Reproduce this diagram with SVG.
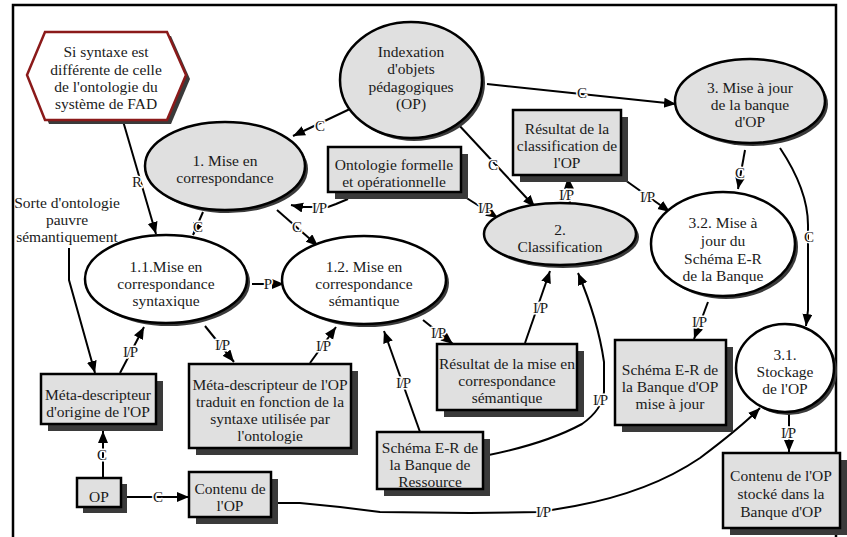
<svg xmlns="http://www.w3.org/2000/svg" width="847" height="537" viewBox="0 0 847 537" font-family="'Liberation Serif', 'Times New Roman', 'DejaVu Serif', serif">
<defs>
<marker id="ah" markerUnits="userSpaceOnUse" markerWidth="13" markerHeight="11" refX="12" refY="5" orient="auto">
<path d="M0,0 L12,5 L0,10 z" fill="#000"/>
</marker>
<style>
text{font-family:'Liberation Serif','Times New Roman',serif;font-size:15.5px;fill:#1a1a1a;text-anchor:middle}
.lbl{font-size:15px;stroke:#fff;stroke-width:3px;paint-order:stroke;stroke-linejoin:round}
.ip{letter-spacing:-1.2px}
.sh{fill:#3a3a3a;stroke:none}
.box{fill:#e0e0e0;stroke:#000;stroke-width:2.5}
.eg{fill:#e0e0e0;stroke:#000;stroke-width:2.5}
.ew{fill:#fff;stroke:#000;stroke-width:2.5}
.c{fill:none;stroke:#000;stroke-width:2;marker-end:url(#ah)}
</style>
</defs>
<rect width="847" height="537" fill="#fff"/>
<path d="M13,537 V5 H836 V537" fill="none" stroke="#000" stroke-width="2.5"/>

<g id="connectors">
<path class="c" d="M352,108 L293,136"/>
<path class="c" d="M487,84 L676,104"/>
<path class="c" d="M457,123 L535,207"/>
<path class="c" d="M123,121 L156,234"/>
<path class="c" d="M203,212 L193,235"/>
<path class="c" d="M277,210 L318,246"/>
<path class="c" d="M348,199 L336,204 L328,207 L300,207 L291,205"/>
<path class="c" d="M465,197 L498,218"/>
<path class="c" d="M570,204 L568,177"/>
<path class="c" d="M625,180 L670,212"/>
<path class="c" d="M745,150 L738,189"/>
<path class="c" d="M780,148 C796,172 808,200 808,225 L808,310 L806,326"/>
<path class="c" d="M708,302 L694,339"/>
<path class="c" d="M789,413 L789,452"/>
<path class="c" d="M271,503 L300,503 L340,507 L380,512 L470,513 L540,512 L575,506 Q650,492 700,458 Q740,428 760,408"/>
<path class="c" d="M484,456 Q545,444 582,424 Q602,410 604,392 L604,362 Q598,320 578,273"/>
<path class="c" d="M420,432 L384,331"/>
<path class="c" d="M423,320 L453,344"/>
<path class="c" d="M525,343 L550,271"/>
<path class="c" d="M252,284 L284,284"/>
<path class="c" d="M205,326 L234,362"/>
<path class="c" d="M310,363 L336,327"/>
<path class="c" d="M120,373 L144,327"/>
<path class="c" d="M69,248 L69,280 L95,373"/>
<path class="c" d="M103,478 L103,431"/>
<path class="c" d="M121,497 L189,497"/>
<text class="lbl" x="320" y="131">C</text>
<text class="lbl" x="582" y="98">C</text>
<text class="lbl" x="493" y="170">C</text>
<text class="lbl" x="137" y="187">R</text>
<text class="lbl" x="198" y="232">C</text>
<text class="lbl" x="297" y="232">C</text>
<text class="lbl ip" x="319" y="213">I/P</text>
<text class="lbl ip" x="485" y="213">I/P</text>
<text class="lbl ip" x="566" y="200">I/P</text>
<text class="lbl ip" x="647" y="202">I/P</text>
<text class="lbl" x="740" y="178">C</text>
<text class="lbl" x="809" y="242">C</text>
<text class="lbl ip" x="699" y="327">I/P</text>
<text class="lbl ip" x="788" y="438">I/P</text>
<text class="lbl ip" x="543" y="517">I/P</text>
<text class="lbl ip" x="600" y="405">I/P</text>
<text class="lbl ip" x="403" y="388">I/P</text>
<text class="lbl ip" x="438" y="338">I/P</text>
<text class="lbl ip" x="540" y="313">I/P</text>
<text class="lbl" x="268" y="289">P</text>
<text class="lbl ip" x="222" y="350">I/P</text>
<text class="lbl ip" x="323" y="351">I/P</text>
<text class="lbl ip" x="130" y="357">I/P</text>
<text class="lbl" x="102" y="460">C</text>
<text class="lbl" x="158" y="502">C</text>
</g>

<g id="n-condition">
<polygon class="sh" points="31,79 49,36 171,36 190,79 171,124 49,124"/>
<polygon points="27,75 45,32 167,32 186,75 167,120 45,120" fill="#fff" stroke="#8b1a1a" stroke-width="2.5"/>
<text x="106" y="57">Si syntaxe est</text>
<text x="106" y="75">différente de celle</text>
<text x="106" y="92">de l'ontologie du</text>
<text x="106" y="109">système de FAD</text>
</g>

<g id="n-indexation">
<ellipse class="sh" cx="414" cy="83" rx="71" ry="58"/>
<ellipse class="eg" cx="411" cy="80" rx="71" ry="58"/>
<text x="411" y="57">Indexation</text>
<text x="411" y="74">d'objets</text>
<text x="411" y="92">pédagogiques</text>
<text x="411" y="109">(OP)</text>
</g>

<g id="n-1">
<ellipse class="sh" cx="228" cy="169" rx="80" ry="44"/>
<ellipse class="eg" cx="225" cy="166" rx="80" ry="44"/>
<text x="225" y="166">1. Mise en</text>
<text x="225" y="183">correspondance</text>
</g>

<g id="n-3">
<ellipse class="sh" cx="753" cy="104" rx="75" ry="42"/>
<ellipse class="eg" cx="750" cy="101" rx="75" ry="42"/>
<text x="750" y="93">3. Mise à jour</text>
<text x="750" y="110">de la banque</text>
<text x="750" y="127">d'OP</text>
</g>

<g id="n-2">
<ellipse class="sh" cx="563" cy="237" rx="76" ry="31"/>
<ellipse class="eg" cx="560" cy="234" rx="76" ry="31"/>
<text x="560" y="235">2.</text>
<text x="560" y="252">Classification</text>
</g>

<g id="n-3-2">
<ellipse class="sh" cx="726" cy="247" rx="72" ry="52"/>
<ellipse class="ew" cx="723" cy="244" rx="72" ry="52"/>
<text x="723" y="228">3.2. Mise à</text>
<text x="723" y="246">jour du</text>
<text x="723" y="264">Schéma E-R</text>
<text x="723" y="281">de la Banque</text>
</g>

<g id="n-1-1">
<ellipse class="sh" cx="169" cy="282" rx="81" ry="44"/>
<ellipse class="ew" cx="166" cy="279" rx="81" ry="44"/>
<text x="166" y="272">1.1.Mise en</text>
<text x="166" y="289">correspondance</text>
<text x="166" y="306">syntaxique</text>
</g>

<g id="n-1-2">
<ellipse class="sh" cx="367" cy="283" rx="82" ry="44"/>
<ellipse class="ew" cx="364" cy="280" rx="82" ry="44"/>
<text x="364" y="272">1.2. Mise en</text>
<text x="364" y="289">correspondance</text>
<text x="364" y="306">sémantique</text>
</g>

<g id="n-3-1">
<ellipse class="sh" cx="788" cy="371" rx="49" ry="44"/>
<ellipse class="ew" cx="785" cy="368" rx="49" ry="44"/>
<text x="785" y="360">3.1.</text>
<text x="785" y="377">Stockage</text>
<text x="785" y="394">de l'OP</text>
</g>

<g id="n-ontologie">
<rect class="sh" x="335" y="154" width="133" height="45"/>
<rect class="box" x="328" y="147" width="133" height="45"/>
<text x="394" y="170">Ontologie formelle</text>
<text x="394" y="187">et opérationnelle</text>
</g>

<g id="n-res-classif">
<rect class="sh" x="520" y="117" width="108" height="65"/>
<rect class="box" x="513" y="110" width="108" height="65"/>
<text x="567" y="134">Résultat de la</text>
<text x="567" y="151">classification de</text>
<text x="567" y="168">l'OP</text>
</g>

<g id="n-meta-origine">
<rect class="sh" x="48" y="381" width="115" height="50"/>
<rect class="box" x="41" y="374" width="115" height="50"/>
<text x="98" y="400">Méta-descripteur</text>
<text x="98" y="417">d'origine de l'OP</text>
</g>

<g id="n-meta-traduit">
<rect class="sh" x="196" y="371" width="162" height="84"/>
<rect class="box" x="189" y="364" width="162" height="84"/>
<text x="270" y="390">Méta-descripteur de l'OP</text>
<text x="270" y="407">traduit en fonction de la</text>
<text x="270" y="424">syntaxe utilisée par</text>
<text x="270" y="441">l'ontologie</text>
</g>

<g id="n-op">
<rect class="sh" x="83" y="484" width="44" height="29"/>
<rect class="box" x="77" y="478" width="44" height="29"/>
<text x="99" y="502">OP</text>
</g>

<g id="n-contenu">
<rect class="sh" x="196" y="479" width="82" height="45"/>
<rect class="box" x="189" y="472" width="82" height="45"/>
<text x="230" y="494">Contenu de</text>
<text x="230" y="511">l'OP</text>
</g>

<g id="n-schema-ressource">
<rect class="sh" x="384" y="439" width="106" height="57"/>
<rect class="box" x="377" y="432" width="106" height="57"/>
<text x="430" y="453">Schéma E-R de</text>
<text x="430" y="470">la Banque de</text>
<text x="430" y="487">Ressource</text>
</g>

<g id="n-res-semantique">
<rect class="sh" x="444" y="351" width="140" height="66"/>
<rect class="box" x="437" y="344" width="140" height="66"/>
<text x="507" y="369">Résultat de la mise en</text>
<text x="507" y="386">correspondance</text>
<text x="507" y="403">sémantique</text>
</g>

<g id="n-schema-op">
<rect class="sh" x="622" y="347" width="111" height="85"/>
<rect class="box" x="615" y="340" width="111" height="85"/>
<text x="670" y="375">Schéma E-R de</text>
<text x="670" y="392">la Banque d'OP</text>
<text x="670" y="409">mise à jour</text>
</g>

<g id="n-contenu-stocke">
<rect class="sh" x="730" y="460" width="117" height="75"/>
<rect class="box" x="723" y="453" width="117" height="75"/>
<text x="781" y="481">Contenu de l'OP</text>
<text x="781" y="499">stocké dans la</text>
<text x="781" y="517">Banque d'OP</text>
</g>

<g id="n-sorte">
<text x="67" y="208">Sorte d'ontologie</text>
<text x="67" y="225">pauvre</text>
<text x="67" y="242">sémantiquement</text>
</g>
</svg>
